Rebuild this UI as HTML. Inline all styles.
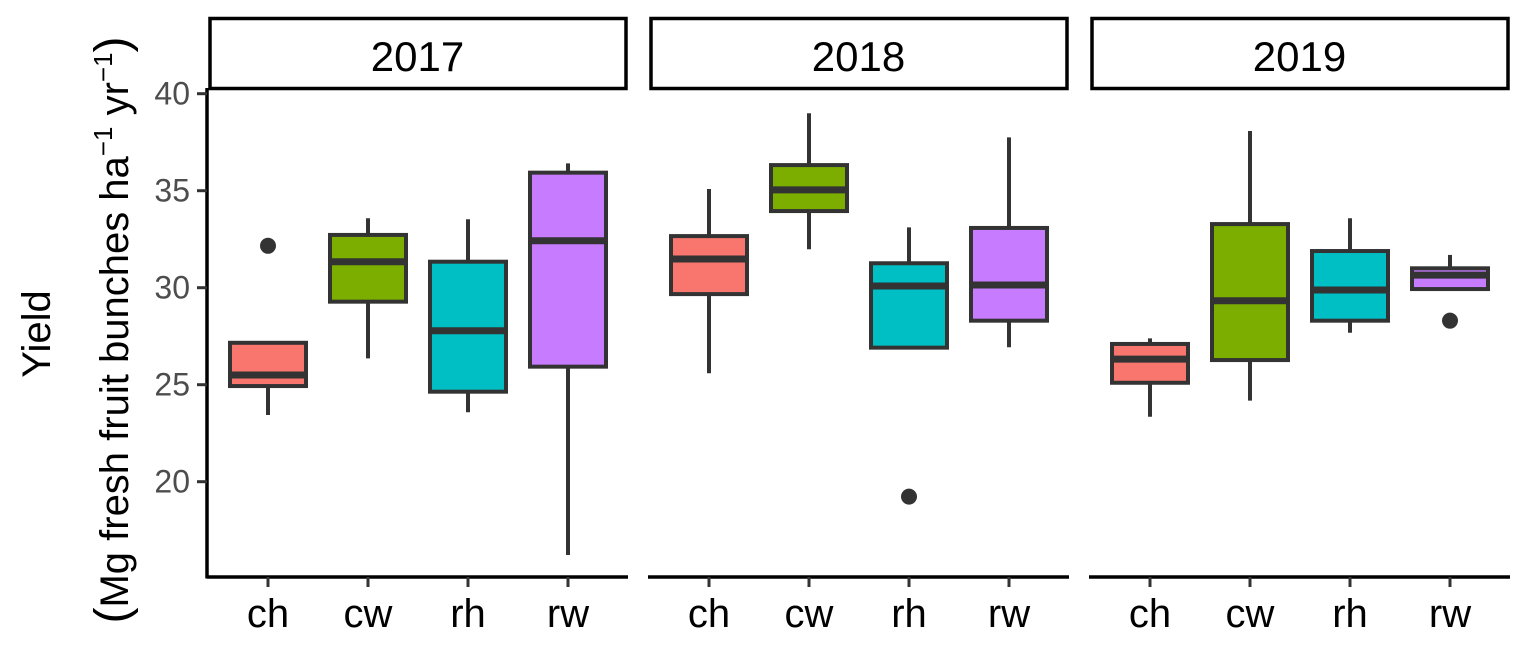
<!DOCTYPE html>
<html><head><meta charset="utf-8"><style>
html,body{margin:0;padding:0;background:#fff;}
svg{display:block;font-family:"Liberation Sans",Arial,sans-serif;}
</style></head><body>
<svg id="chart" width="1530" height="658" viewBox="0 0 1530 658">
<g>
<text transform="translate(50,334) rotate(-90)" text-anchor="middle" font-size="40" fill="#000">Yield</text>
<text transform="translate(128,330) rotate(-90)" text-anchor="middle" font-size="40" fill="#000"><tspan font-size="48">(</tspan>Mg fresh fruit bunches ha<tspan font-size="26" dy="-16">−1</tspan><tspan dy="16"> yr</tspan><tspan font-size="26" dy="-16">−1</tspan><tspan font-size="48" dy="16">)</tspan></text>
</g>
<g id="plot"></g>
</svg>
<script>
const years = ["2017","2018","2019"];
const categories = ["ch","cw","rh","rw"];
const colors = ["#F8766D","#7CAE00","#00BFC4","#C77CFF"];
const yTicks = [20,25,30,35,40];
// [lowWhisker, q1, median, q3, highWhisker] per category, per year
const stats2017 = [[23.44,24.93,25.5,27.16,27.16],[26.36,29.28,31.34,32.72,33.58],[23.58,24.64,27.78,31.34,33.53],[16.22,25.93,32.42,35.93,36.41]];
const stats2018 = [[25.59,29.67,31.48,32.66,35.09],[31.98,33.95,35.04,36.32,38.99],[26.91,26.91,30.09,31.26,33.11],[26.93,28.3,30.14,33.08,37.75]];
const stats2019 = [[23.35,25.1,26.32,27.1,27.39],[24.18,26.27,29.33,33.28,38.08],[27.68,28.3,29.88,31.89,33.58],[29.93,29.93,30.65,31.0,31.69]];
const outliers2017 = [[32.16],[],[],[]];
const outliers2018 = [[],[],[19.23],[]];
const outliers2019 = [[],[],[],[28.3]];
const allStats = [stats2017,stats2018,stats2019];
const allOut = [outliers2017,outliers2018,outliers2019];

const NS="http://www.w3.org/2000/svg";
const plot=document.getElementById('plot');
const panelX=[207,648,1089], panelW=421, plotTop=88, plotBottom=577;
function yScale(v){return 287.7-(v-30)*19.4;}
function xScale(p,i){return panelX[p]+61+i*100;}
function mk(tag,attrs,parent){const e=document.createElementNS(NS,tag);for(const k in attrs)e.setAttribute(k,attrs[k]);(parent||plot).appendChild(e);return e;}
const dark="#333333";
years.forEach((yr,p)=>{
  const g=mk('g',{});
  
  
  const strip=mk('rect',{x:panelX[p]+3,y:18.5,width:panelW-5,height:70,fill:'#fff',stroke:'#000','stroke-width':3.5},g);
  
  
  const st=mk('text',{x:panelX[p]+panelW/2,y:71,'text-anchor':'middle','font-size':42,fill:'#000'},g);
  st.textContent=yr;
  
  
  const ax=mk('line',{x1:panelX[p],x2:panelX[p]+panelW,y1:plotBottom,y2:plotBottom,stroke:'#000','stroke-width':3.5},g);
  
  
  if(p===0){
    const yl=mk('line',{x1:207,x2:207,y1:plotTop,y2:plotBottom+1.5,stroke:'#000','stroke-width':3.5},g);
    
    
    yTicks.forEach(t=>{
      const tl=mk('line',{x1:197,x2:207,y1:yScale(t),y2:yScale(t),stroke:dark,'stroke-width':3},g);
      
      
      const tt=mk('text',{x:190,y:yScale(t)+11,'text-anchor':'end','font-size':32,fill:'#4d4d4d'},g);
      tt.textContent=t;
      
      
    });
  }
  categories.forEach((c,i)=>{
    const s=allStats[p][i], cx=xScale(p,i), hw=38;
    const bg=mk('g',{},g);
    
    
    mk('line',{x1:cx,x2:cx,y1:yScale(s[4]),y2:yScale(s[0]),stroke:dark,'stroke-width':4},bg);
    mk('rect',{x:cx-hw,y:yScale(s[3]),width:2*hw,height:yScale(s[1])-yScale(s[3]),fill:colors[i],stroke:dark,'stroke-width':4},bg);
    mk('line',{x1:cx-hw,x2:cx+hw,y1:yScale(s[2]),y2:yScale(s[2]),stroke:dark,'stroke-width':7},bg);
    allOut[p][i].forEach(o=>{
      const d=mk('circle',{cx:cx,cy:yScale(o),r:8,fill:dark},bg);
      
      
    });
    const tk=mk('line',{x1:cx,x2:cx,y1:plotBottom,y2:plotBottom+10,stroke:dark,'stroke-width':3},g);
    
    
    const lt=mk('text',{x:cx,y:627,'text-anchor':'middle','font-size':40,fill:'#000'},g);
    lt.textContent=c;
    
    
  });
});
</script>
</body></html>
